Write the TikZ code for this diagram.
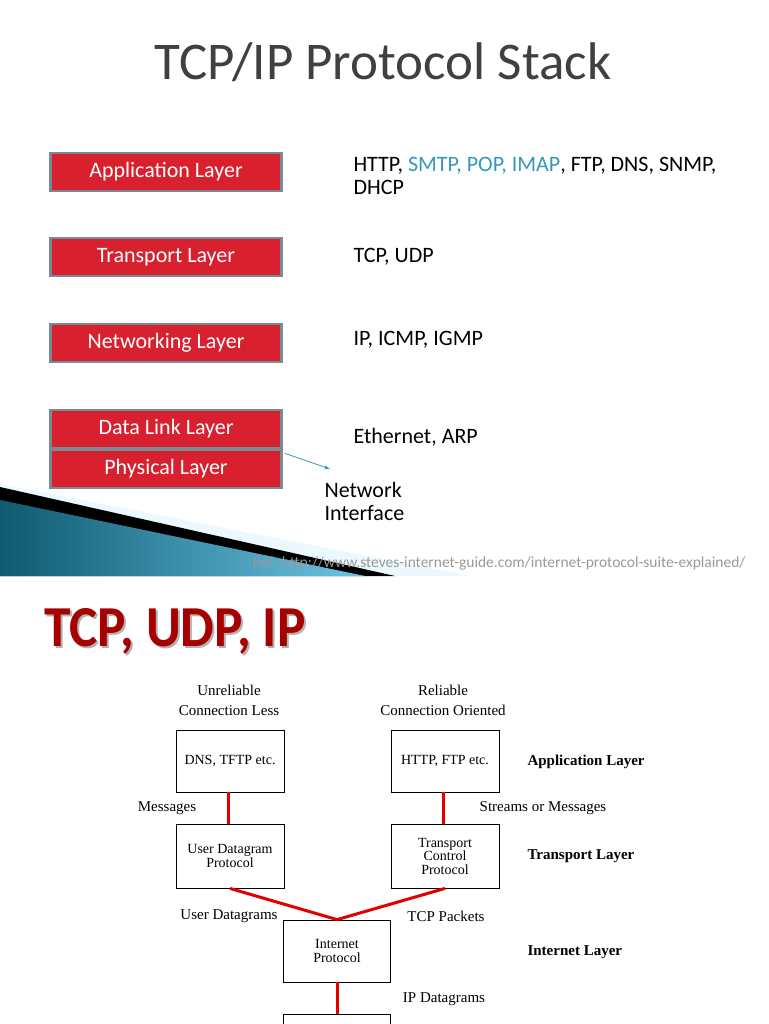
\documentclass[tikz,border=0pt]{standalone}
\usepackage{fontspec}
\setmainfont{Carlito}
\newfontfamily\tnr{Liberation Serif}
\begin{document}
\begin{tikzpicture}[x=1pt,y=-1pt,
  layer/.style={draw=black!20!cyan!30!gray!90!black, line width=2.5pt, fill=lred, minimum width=231pt, minimum height=38pt, text=white, font=\fontsize{22}{24}\selectfont, inner sep=0pt},
  rtext/.style={anchor=west, font=\fontsize{22}{23}\selectfont, align=left},
  pbox/.style={draw=black, line width=0.8pt, fill=white, inner sep=0pt, font=\tnr\fontsize{14}{13.5}\selectfont, align=center},
  lbl/.style={font=\tnr\fontsize{15}{20}\selectfont, align=center},
  rlbl/.style={font=\tnr\bfseries\fontsize{15}{15}\selectfont, anchor=west},
  redline/.style={draw=red!90!black, line width=3pt}]
\definecolor{lred}{HTML}{D9202F}
\definecolor{teal2}{HTML}{3399BB}
\definecolor{dteal}{HTML}{0E5A70}
\definecolor{lteal}{HTML}{6CC4E4}
\useasboundingbox (0,0) rectangle (768,1024);
\clip (0,0) rectangle (768,1024);
% top slide
\node[font=\fontsize{53}{56}\selectfont, text=black!75] (t1) at (383,62) {TCP/IP Protocol Stack};
\fill[cyan!8!white] (0,484) -- (470,576) -- (0,576) -- cycle;
\fill[black] (0,487) -- (395,576) -- (0,576) -- cycle;
\shade[left color=dteal, right color=lteal] (0,500) -- (365,576) -- (0,576) -- cycle;
\node[layer] (app) at (166,172) {Application Layer};
\node[layer] (tra) at (166,257) {Transport Layer};
\node[layer] (net) at (166,343) {Networking Layer};
\node[layer] (dl) at (166,429) {Data Link Layer};
\node[layer] (ph) at (166,469) {Physical Layer};
\node[rtext] (appt) at (350,176) {HTTP, \textcolor{teal2}{SMTP, POP, IMAP}, FTP, DNS, SNMP,\\DHCP};
\node[rtext] (trat) at (350,257) {TCP, UDP};
\node[rtext] (nett) at (350,340) {IP, ICMP, IGMP};
\node[rtext] (dlt) at (350,437) {Ethernet, ARP};
\node[rtext] (ni) at (321,501) {Network\\Interface};
\coordinate (ar) at (330,469);
\draw[teal2, line width=0.8pt, -latex] (dl.south east) ++(2,4) -- (ar);
\node[anchor=east, font=\fontsize{15.5}{16}\selectfont, text=black!40] (ref) at (749,563) {Ref: http://www.steves-internet-guide.com/internet-protocol-suite-explained/};
% bottom slide
\node[anchor=west, font=\bfseries\fontsize{58}{60}\selectfont, text=black!30, xscale=0.92] at (43,633) {TCP, UDP, IP};
\node[anchor=west, font=\bfseries\fontsize{58}{60}\selectfont, text=red!65!black, xscale=0.92] (t2) at (41,631) {TCP, UDP, IP};
\node[lbl] (l1) at (229,700) {Unreliable\\Connection Less};
\node[lbl] (l2) at (443,700) {Reliable\\Connection Oriented};
\node[pbox, minimum width=108pt, minimum height=62pt] (dns) at (230,761) {DNS, TFTP etc.};
\node[pbox, minimum width=108pt, minimum height=62pt] (http) at (445,761) {HTTP, FTP etc.};
\node[pbox, minimum width=108pt, minimum height=64pt] (udp) at (230,856) {User Datagram\\Protocol};
\node[pbox, minimum width=108pt, minimum height=64pt] (tcp) at (445,856) {Transport\\Control\\Protocol};
\node[pbox, minimum width=107pt, minimum height=62pt] (ip) at (337,951) {Internet\\Protocol};
\node[pbox, minimum width=107pt, minimum height=62pt, anchor=north] (nif) at (337,1014) {};
\draw[redline] (dns.south -| 228,0) -- (udp.north -| 228,0);
\draw[redline] (http.south -| 443,0) -- (tcp.north -| 443,0);
\draw[redline] (udp.south) -- (ip.north);
\draw[redline] (tcp.south) -- (ip.north);
\draw[redline] (ip.south) -- (nif.north);
\node[lbl] (m1) at (167,808) {Messages};
\node[lbl] (m2) at (543,808) {Streams or Messages};
\node[lbl] (m3) at (229,916) {User Datagrams};
\node[lbl] (m4) at (446,916) {TCP Packets};
\node[lbl] (m5) at (444,999) {IP Datagrams};
\node[rlbl] (r1) at (524,762) {Application Layer};
\node[rlbl] (r2) at (524,856) {Transport Layer};
\node[rlbl] (r3) at (524,952) {Internet Layer};
\end{tikzpicture}
\end{document}
